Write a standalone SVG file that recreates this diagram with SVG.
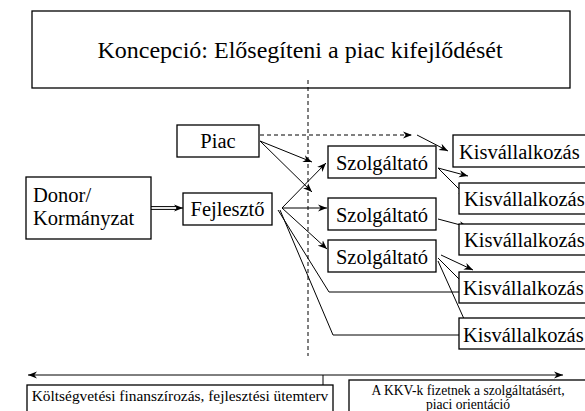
<svg xmlns="http://www.w3.org/2000/svg" width="585" height="411" viewBox="0 0 585 411">
<style>
.box{fill:#fff;stroke:#000;stroke-width:1.3}
.t{font-family:"Liberation Serif","Times New Roman",serif;fill:#000}
.n{font-size:20.5px}
.ln{fill:none;stroke:#000;stroke-width:1}
.dash{fill:none;stroke:#000;stroke-width:1;stroke-dasharray:4,3}
</style>
<defs>
<marker id="ah" viewBox="0 0 10 10" refX="10" refY="5" markerWidth="9" markerHeight="9" markerUnits="userSpaceOnUse" orient="auto-start-reverse"><path d="M0,1 L10,5 L0,9 L3,5 z" fill="#000"/></marker>
</defs>
<rect width="585" height="411" fill="#fff"/>

<g id="koncepcio">
<rect class="box" x="32" y="11" width="538" height="77"/>
<text class="t" x="300" y="58" font-size="24" text-anchor="middle">Koncepció: Elősegíteni a piac kifejlődését</text>
</g>

<g id="connectors">
<line class="dash" x1="308" y1="80" x2="308" y2="356"/>
<line class="dash" x1="260" y1="135" x2="412" y2="135" marker-end="url(#ah)"/>
<line class="ln" x1="417" y1="135" x2="448" y2="151" marker-end="url(#ah)"/>
<line class="ln" x1="260" y1="141" x2="312" y2="162" marker-end="url(#ah)"/>
<line class="ln" x1="260" y1="141" x2="312" y2="192" marker-end="url(#ah)"/>
<line class="ln" x1="151" y1="206.6" x2="178" y2="206.6"/>
<line class="ln" x1="151" y1="209.4" x2="178" y2="209.4"/>
<line class="ln" x1="176" y1="208" x2="183" y2="208" marker-end="url(#ah)"/>
<line class="ln" x1="282" y1="208" x2="326" y2="163" marker-end="url(#ah)"/>
<line class="ln" x1="282" y1="208" x2="327" y2="208" marker-end="url(#ah)"/>
<line class="ln" x1="282" y1="208" x2="327" y2="249" marker-end="url(#ah)"/>
<polyline class="ln" points="278,210 329,292 472,292" marker-end="url(#ah)"/>
<polyline class="ln" points="280,210 333,335 477,335" marker-end="url(#ah)"/>
<line class="ln" x1="438" y1="168" x2="468" y2="176" marker-end="url(#ah)"/>
<line class="ln" x1="438" y1="168" x2="467" y2="197" marker-end="url(#ah)"/>
<line class="ln" x1="438" y1="219" x2="468" y2="227" marker-end="url(#ah)"/>
<line class="ln" x1="441" y1="255" x2="473" y2="270" marker-end="url(#ah)"/>
<line class="ln" x1="438" y1="258" x2="472" y2="292" marker-end="url(#ah)"/>
<line class="ln" x1="438" y1="261" x2="469" y2="330" marker-end="url(#ah)"/>
<line class="ln" x1="28" y1="375" x2="563" y2="375" marker-start="url(#ah)" marker-end="url(#ah)"/>
<line class="ln" x1="323" y1="375" x2="323" y2="385"/>
</g>

<g id="piac">
<rect class="box" x="177" y="125" width="82" height="32"/>
<text class="t n" x="218" y="148" text-anchor="middle">Piac</text>
</g>
<g id="donor">
<rect class="box" x="26" y="177" width="125" height="62"/>
<text class="t n" x="33" y="202">Donor/</text>
<text class="t n" x="33" y="225">Kormányzat</text>
</g>
<g id="fejleszto">
<rect class="box" x="183" y="193" width="89" height="32"/>
<text class="t n" x="227.5" y="216" text-anchor="middle">Fejlesztő</text>
</g>
<g id="szolg1">
<rect class="box" x="328" y="146" width="108" height="32"/>
<text class="t n" x="382" y="170" text-anchor="middle">Szolgáltató</text>
</g>
<g id="szolg2">
<rect class="box" x="328" y="198" width="108" height="32"/>
<text class="t n" x="382" y="222" text-anchor="middle">Szolgáltató</text>
</g>
<g id="szolg3">
<rect class="box" x="328" y="240" width="108" height="32"/>
<text class="t n" x="382" y="264" text-anchor="middle">Szolgáltató</text>
</g>
<g id="kis1">
<rect class="box" x="453" y="135" width="140" height="32"/>
<text class="t n" x="459" y="159">Kisvállalkozás</text>
</g>
<g id="kis2">
<rect class="box" x="459" y="183" width="140" height="31"/>
<text class="t n" x="464" y="206">Kisvállalkozás</text>
</g>
<g id="kis3">
<rect class="box" x="459" y="224" width="140" height="31"/>
<text class="t n" x="464" y="247">Kisvállalkozás</text>
</g>
<g id="kis4">
<rect class="box" x="459" y="272" width="140" height="31"/>
<text class="t n" x="463" y="295">Kisvállalkozás</text>
</g>
<g id="kis5">
<rect class="box" x="459" y="318" width="140" height="31"/>
<text class="t n" x="463" y="342">Kisvállalkozás</text>
</g>

<g id="koltseg">
<rect class="box" x="27" y="385" width="306" height="40"/>
<text class="t" x="180" y="401" font-size="15.4" text-anchor="middle">Költségvetési finanszírozás, fejlesztési ütemterv</text>
</g>
<g id="kkv">
<rect class="box" x="349" y="380" width="250" height="40"/>
<text class="t" x="468" y="395" font-size="13.6" text-anchor="middle">A KKV-k fizetnek a szolgáltatásért,</text>
<text class="t" x="468" y="409" font-size="13.6" text-anchor="middle">piaci orientáció</text>
</g>
</svg>
